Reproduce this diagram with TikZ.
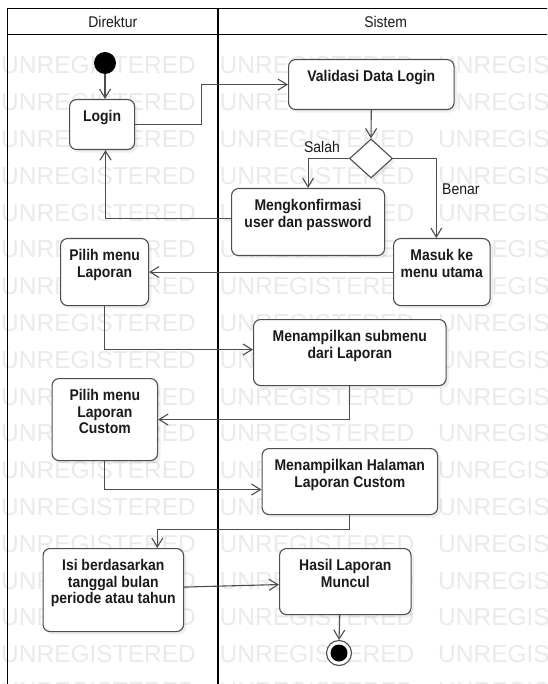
\documentclass[tikz,border=0pt]{standalone}
\usepackage{fontspec}
\setmainfont{Liberation Sans}
\newfontfamily\nodefont[FakeStretch=0.9]{Liberation Sans}
\usetikzlibrary{arrows.meta,shapes.geometric,shadows,calc}
\definecolor{linec}{HTML}{4D4D4D}
\definecolor{txtc}{HTML}{1A1A1A}
\definecolor{wmc}{HTML}{EAEAEA}
\newcommand\actbox[3]{\parbox[c][#2pt][t]{#1pt}{\centering\rule{0pt}{22pt}#3\par}}
\tikzset{
  act/.style={draw=linec, line width=1.1pt, fill=white, rounded corners=7pt,
    inner sep=0pt, anchor=north west, text=txtc,
    font=\nodefont\bfseries\fontsize{15.5}{16.5}\selectfont,
    drop shadow={shadow xshift=3pt, shadow yshift=-3pt, opacity=0.12}},
  flow/.style={draw=linec, line width=1.1pt, -{Straight Barb[length=9pt,width=11pt]}},
  lbl/.style={inner sep=0pt, text=txtc, font=\nodefont\fontsize{15.5}{16.5}\selectfont},
  wm/.style={anchor=west, inner sep=0pt, text=wmc, font=\fontsize{24.5}{24.5}\selectfont},
  lane/.style={draw=black, line width=1.6pt}
}
\begin{document}
\begin{tikzpicture}[x=1pt,y=-1pt]
\useasboundingbox (0,0) rectangle (547,684);
\clip (0,0) rectangle (547,684);
\fill[white] (0,0) rectangle (547,684);
% watermark
\foreach \r in {0,...,17}{
  \foreach \c/\xx in {0/1,1/219.5,2/438}{
    \node[wm] (wm-\r-\c) at (\xx,{65.4+36.8*\r}) {UNREGISTERED};
  }
}
% swimlane frame
\draw[lane] (7.5,8.5) -- (560,8.5);
\draw[lane] (7.5,34.5) -- (560,34.5);
\draw[lane] (7.5,8.5) -- (7.5,700);
\draw[lane] (218,8.5) -- (218,700);
\node[lbl] (hdir) at (112.75,21.5) {Direktur};
\node[lbl] (hsis) at (385.6,21.5) {Sistem};
% nodes
\node[circle, fill=black, minimum size=22pt, inner sep=0pt] (start) at (105,63) {};
\node[act] (login) at (69,99) {\actbox{65}{50}{Login}};
\node[act] (valid) at (288,59) {\actbox{165.5}{50}{Validasi Data Login}};
\node[diamond, draw=linec, line width=1.1pt, fill=white, minimum width=43pt,
  minimum height=39pt, inner sep=0pt,
  drop shadow={shadow xshift=3pt, shadow yshift=-3pt, opacity=0.12}] (dia) at (371,158.5) {};
\node[act] (konf) at (231,188) {\actbox{153}{67}{Mengkonfirmasi\\user dan password}};
\node[act] (masuk) at (393,238) {\actbox{96.5}{67}{Masuk ke\\menu utama}};
\node[act] (pilih) at (60,238) {\actbox{88}{67}{Pilih menu\\Laporan}};
\node[act] (sub) at (253,319) {\actbox{192.5}{66}{Menampilkan submenu\\dari Laporan}};
\node[act] (custom) at (51.5,378) {\actbox{105.5}{82}{Pilih menu\\Laporan\\Custom}};
\node[act] (hal) at (261.5,448) {\actbox{175.5}{66}{Menampilkan Halaman\\Laporan Custom}};
\node[act] (isi) at (42.5,548) {\actbox{140.5}{83}{Isi berdasarkan\\tanggal bulan\\periode atau tahun}};
\node[act] (hasil) at (279,548) {\actbox{131.5}{66}{Hasil Laporan\\Muncul}};
\node[circle, draw=linec, line width=1.1pt, fill=white, minimum size=25pt, inner sep=0pt] (fin) at (339,653) {};
\node[circle, fill=black, minimum size=17pt, inner sep=0pt] (finin) at (fin) {};
% labels
\node[lbl] (salah) at (322,147) {Salah};
\node[lbl, anchor=west] (benar) at (442,189) {Benar};
% connectors
\draw[flow] (start) -- (start |- login.north);
\draw[flow] (login.east) -- ++(66.5,0) |- (valid.west);
\draw[flow] (valid.south) -- (dia.north);
\draw[flow] (dia.west) -| (konf.north);
\draw[flow] (dia.east) -| ([xshift=-5.5pt]masuk.north);
\draw[flow] ([yshift=3.5pt]konf.west) -| ([xshift=3.5pt]login.south);
\draw[flow] (masuk.west) -- (pilih.east);
\draw[flow] (pilih.south) |- ([yshift=3pt]sub.west);
\draw[flow] (sub.south) |- (custom.east);
\draw[flow] (custom.south) |- ([yshift=-8pt]hal.west);
\draw[flow] (hal.south) -- ++(0,14) -| ([xshift=44pt]isi.north);
\draw[flow] ([yshift=3pt]isi.east) -- ([yshift=-3pt]hasil.west);
\draw[flow] ([xshift=-5.5pt]hasil.south) -- (fin.north);
\end{tikzpicture}
\end{document}
